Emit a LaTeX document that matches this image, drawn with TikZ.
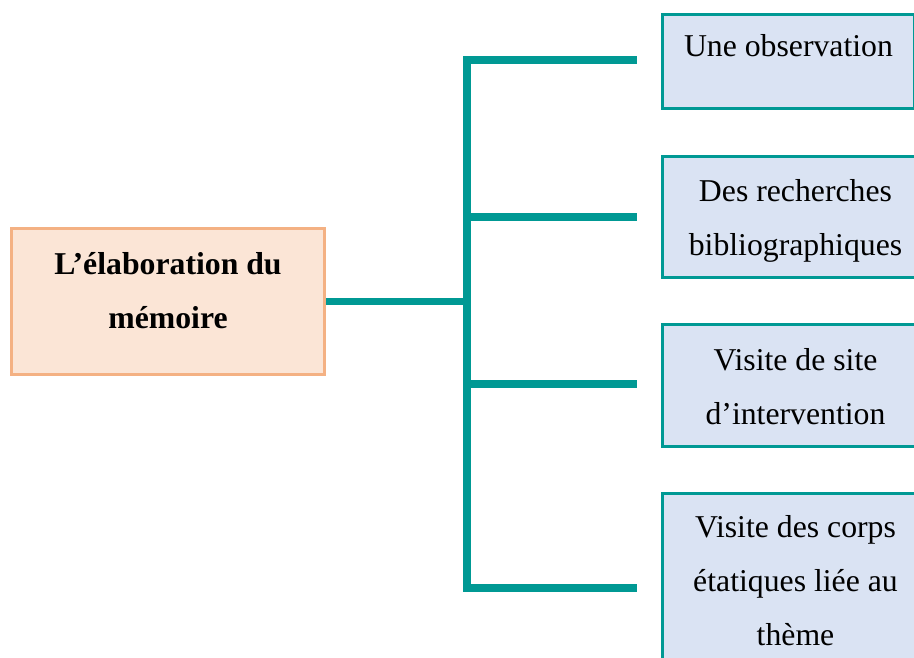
\documentclass[tikz,border=0pt]{standalone}
\usepackage{fontspec}
\setmainfont{Liberation Serif}
\definecolor{teal1}{RGB}{0,153,148}
\definecolor{bluefill}{RGB}{218,227,243}
\definecolor{orangefill}{RGB}{251,229,214}
\definecolor{orangeline}{RGB}{244,177,131}
\tikzset{
  basebox/.style={rectangle, line width=3pt, inner xsep=0pt, inner ysep=0pt,
    align=flush center, anchor=north west,
    font=\fontsize{31.75pt}{54pt}\selectfont},
  mainbox/.style={basebox, draw=orangeline, fill=orangefill,
    font=\fontsize{31.75pt}{54pt}\selectfont\bfseries},
  itembox/.style={basebox, draw=teal1, fill=bluefill},
  conn/.style={draw=teal1, line width=7.5pt},
}
\begin{document}
\begin{tikzpicture}[x=1pt, y=-1pt]
\useasboundingbox (0,0) rectangle (914,657);
\clip (0,0) rectangle (914,657);
\fill[white] (0,0) rectangle (914,657);

\node[mainbox, text width=313pt, text height=46pt, text depth=100pt] (m) at (10,227)
  {L’élaboration du\\mémoire};

\node[itembox, text width=252pt, text height=42pt, text depth=52pt] (b1) at (661,13)
  {Une observation};
\node[itembox, text width=266pt, text height=45pt, text depth=76pt] (b2) at (661,155)
  {Des recherches\\bibliographiques};
\node[itembox, text width=266pt, text height=46pt, text depth=76pt] (b3) at (661,323)
  {Visite de site\\d’intervention};
\node[itembox, text width=266pt, text height=44pt, text depth=170pt] (b4) at (661,492)
  {Visite des corps\\étatiques liée au\\thème};

\coordinate (j1) at (467,60);
\coordinate (j2) at (467,217);
\coordinate (j3) at (467,384);
\coordinate (j4) at (467,588);
\coordinate (j0) at (m.east -| j1);
\coordinate (e1) at (636.5,60);
\coordinate (e2) at (636.5,217);
\coordinate (e3) at (636.5,384);
\coordinate (e4) at (636.5,588);

\draw[conn] (m.east) -- (j0);
\draw[conn, line cap=rect] (j1) -- (j4);
\draw[conn] (j1) -- (e1);
\draw[conn] (j2) -- (e2);
\draw[conn] (j3) -- (e3);
\draw[conn] (j4) -- (e4);
\end{tikzpicture}
\end{document}
